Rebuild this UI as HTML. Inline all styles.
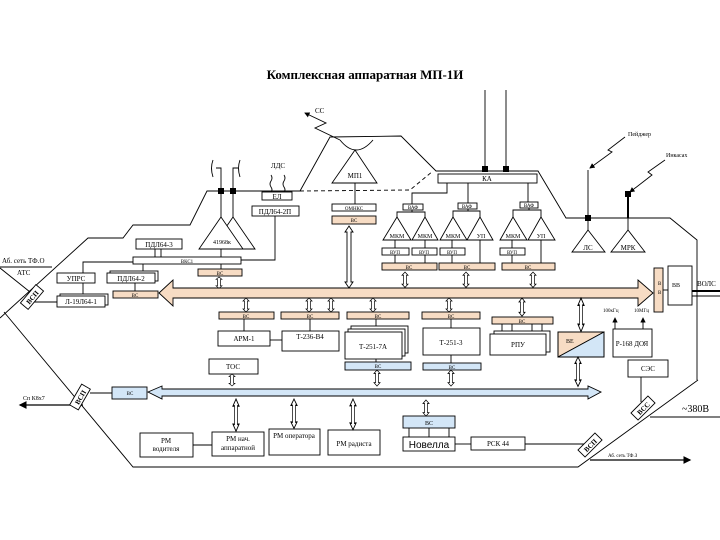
<!DOCTYPE html>
<html><head><meta charset="utf-8"><style>
body{margin:0;background:#fff}
svg{display:block;font-family:"Liberation Serif",serif;font-size:7px}
text{fill:#000}
</style></head><body>
<svg width="720" height="540" viewBox="0 0 720 540" xmlns="http://www.w3.org/2000/svg">
<defs>
<marker id="ah" markerWidth="6" markerHeight="6" refX="5" refY="3" orient="auto"><path d="M0,0L6,3L0,6z" fill="#000"/></marker>
</defs>
<g fill="none" stroke="#000" stroke-width="0.9">
<polyline points="0,318 88,238 123,238 133,225 190,225 207,191 300,191"/>
<polyline points="300,191 330,137 401,136 436,171 538,171 566,218 670,218 697,240 697,380"/>
<polyline points="300,191 410,190 433,171" stroke-dasharray="4,3"/>
<polyline points="4,312 133,467 578,467 698,380"/>
<line x1="650" y1="417" x2="720" y2="417"/>
<path d="M340,140 Q356,160 373,140"/>
<polyline points="340,140 315,128 326,123 305,113" marker-end="url(#ah)"/>
<polygon points="355,150 332,183 377,183"/>
<line x1="355" y1="183" x2="355" y2="204"/>
<rect x="332" y="204" width="44" height="7" fill="#fff"/>
<rect x="332" y="216" width="44" height="8" fill="#f7dcc4"/>
<polyline points="221,191 221,168 216,168"/><polyline points="233,191 233,168 238,168"/>
<path d="M213,160 Q210,168 213,177"/><path d="M240,160 Q237,168 240,177"/>
<line x1="221" y1="191" x2="221" y2="217"/><line x1="233" y1="191" x2="233" y2="217"/>
<polygon points="233,217 211,249 255,249" fill="#fff"/>
<polygon points="221,217 199,249 243,249" fill="#fff"/>
<path d="M271,175 q2,3 0,6 q-2,3 0,6 q2,3 0,5"/><path d="M284,175 q2,3 0,6 q-2,3 0,6 q2,3 0,5"/>
<rect x="262" y="192" width="30" height="8" fill="#fff"/>
<rect x="252" y="206" width="47" height="10" fill="#fff"/>
<polyline points="275,216 275,260 241,260"/>
<rect x="136" y="239" width="46" height="10" fill="#fff"/>
<line x1="155" y1="249" x2="155" y2="257"/><line x1="161" y1="249" x2="161" y2="257"/>
<rect x="133" y="257" width="108" height="7" fill="#fff"/>
<line x1="221" y1="249" x2="221" y2="257"/><line x1="221" y1="264" x2="221" y2="269"/>
<rect x="198" y="269" width="44" height="7" fill="#f7dcc4"/>
<polyline points="83,273 83,262 133,262"/>
<line x1="143" y1="264" x2="143" y2="273"/>
<rect x="57" y="273" width="38" height="10" fill="#fff"/>
<rect x="110" y="271" width="48" height="10" fill="#fff"/>
<rect x="107" y="273" width="48" height="10" fill="#fff"/>
<line x1="135" y1="283" x2="135" y2="291"/>
<rect x="113" y="291" width="45" height="7" fill="#f7dcc4"/>
<line x1="83" y1="283" x2="83" y2="296"/>
<rect x="60" y="294" width="48" height="11" fill="#fff"/>
<rect x="57" y="296" width="48" height="11" fill="#fff"/>
<line x1="32" y1="302" x2="57" y2="302"/>
<line x1="0" y1="267" x2="52" y2="267"/><line x1="0" y1="268" x2="30" y2="292"/>
<polygon points="159,293 173,280 173,288 638,288 638,280 653,293 638,306 638,298 173,298 173,306" fill="#f7dcc4"/>
<polygon points="349,226 353,232 351,232 351,282 353,282 349,288 345,282 347,282 347,232 345,232" fill="#fff"/>
<line x1="485" y1="90" x2="485" y2="169"/><line x1="506" y1="90" x2="506" y2="169"/>
<rect x="438" y="174" width="99" height="9" fill="#fff"/>
<polyline points="447,183 447,193 412,193 412,204"/>
<line x1="468" y1="183" x2="468" y2="203"/>
<line x1="528" y1="183" x2="528" y2="202"/>
<rect x="403" y="204" width="20" height="6" fill="#fff"/>
<rect x="458" y="203" width="19" height="6" fill="#fff"/>
<rect x="520" y="202" width="18" height="6" fill="#fff"/>
<polyline points="397,217 397,212 425,212 425,217"/><line x1="412" y1="210" x2="412" y2="212"/>
<polyline points="453,217 453,211 480,211 480,217"/><line x1="468" y1="209" x2="468" y2="211"/>
<polyline points="513,217 513,210 541,210 541,217"/><line x1="529" y1="208" x2="529" y2="210"/>
<polygon points="397,217 383,240 411,240" fill="#fff"/>
<polygon points="425,217 412,240 438,240" fill="#fff"/>
<polygon points="453,217 440,240 467,240" fill="#fff"/>
<polygon points="480,217 467,240 493,240" fill="#fff"/>
<polygon points="513,217 500,240 527,240" fill="#fff"/>
<polygon points="541,217 528,240 555,240" fill="#fff"/>
<rect x="382" y="248" width="27" height="7" fill="#fff"/>
<rect x="412" y="248" width="25" height="7" fill="#fff"/>
<rect x="440" y="248" width="25" height="7" fill="#fff"/>
<rect x="500" y="248" width="25" height="7" fill="#fff"/>
<line x1="395" y1="240" x2="395" y2="248"/><line x1="425" y1="240" x2="425" y2="248"/><line x1="452" y1="240" x2="452" y2="248"/><line x1="512" y1="240" x2="512" y2="248"/>
<line x1="395" y1="255" x2="395" y2="263"/><line x1="425" y1="255" x2="425" y2="263"/><line x1="452" y1="255" x2="452" y2="263"/><line x1="480" y1="240" x2="480" y2="263"/><line x1="512" y1="255" x2="512" y2="263"/><line x1="541" y1="240" x2="541" y2="263"/>
<rect x="382" y="263" width="55" height="7" fill="#f7dcc4"/>
<rect x="439" y="263" width="56" height="7" fill="#f7dcc4"/>
<rect x="502" y="263" width="53" height="7" fill="#f7dcc4"/>
<line x1="588" y1="218" x2="588" y2="170"/>
<polyline points="625,137 608,150 612,152 590,168" marker-end="url(#ah)"/>
<line x1="628" y1="194" x2="628" y2="218" stroke-width="2"/>
<polyline points="665,160 648,172 652,175 630,192" marker-end="url(#ah)"/>
<line x1="588" y1="218" x2="588" y2="230"/><line x1="628" y1="218" x2="628" y2="230"/>
<polygon points="588,230 572,252 605,252"/>
<polygon points="628,230 611,252 645,252"/>
<rect x="654" y="268" width="9" height="44" fill="#f7dcc4"/>
<rect x="668" y="266" width="24" height="39" fill="#fff"/>
<line x1="663" y1="290" x2="668" y2="290"/>
<line x1="692" y1="291" x2="720" y2="291" stroke-width="2"/>
<line x1="692" y1="296" x2="720" y2="296"/>
<rect x="219" y="312" width="55" height="7" fill="#f7dcc4"/>
<rect x="281" y="312" width="58" height="7" fill="#f7dcc4"/>
<rect x="347" y="312" width="62" height="7" fill="#f7dcc4"/>
<rect x="422" y="312" width="58" height="7" fill="#f7dcc4"/>
<rect x="492" y="317" width="61" height="7" fill="#f7dcc4"/>
<line x1="244" y1="319" x2="244" y2="331"/><line x1="310" y1="319" x2="310" y2="331"/><line x1="376" y1="319" x2="376" y2="332"/><line x1="451" y1="319" x2="451" y2="328"/>
<line x1="502" y1="324" x2="502" y2="334"/><line x1="512" y1="324" x2="512" y2="334"/><line x1="532" y1="324" x2="532" y2="334"/><line x1="542" y1="324" x2="542" y2="334"/>
<rect x="218" y="331" width="52" height="15" fill="#fff"/>
<line x1="270" y1="340" x2="282" y2="340"/>
<rect x="282" y="331" width="57" height="20" fill="#fff"/>
<rect x="351" y="326" width="57" height="27" fill="#fff"/>
<rect x="348" y="329" width="57" height="27" fill="#fff"/>
<rect x="345" y="332" width="57" height="27" fill="#fff"/>
<rect x="423" y="328" width="57" height="27" fill="#fff"/>
<rect x="494" y="331" width="56" height="21" fill="#fff"/>
<rect x="490" y="334" width="56" height="21" fill="#fff"/>
<polygon points="558,332 604,332 558,357" fill="#f7dcc4"/>
<polygon points="604,332 604,357 558,357" fill="#d3e6f7"/>
<rect x="558" y="332" width="46" height="25"/>
<rect x="613" y="329" width="39" height="28" fill="#fff"/>
<line x1="615" y1="329" x2="615" y2="318" marker-end="url(#ah)"/>
<line x1="643" y1="329" x2="643" y2="318" marker-end="url(#ah)"/>
<rect x="628" y="360" width="40" height="17" fill="#fff"/>
<line x1="641" y1="377" x2="641" y2="402"/>
<rect x="209" y="359" width="49" height="15" fill="#fff"/>
<line x1="376" y1="359" x2="376" y2="362"/><line x1="451" y1="355" x2="451" y2="363"/>
<rect x="345" y="362" width="66" height="8" fill="#d3e6f7"/>
<rect x="423" y="363" width="58" height="7" fill="#d3e6f7"/>
<polygon points="148,392 162,386 162,389 588,389 588,386 601,392 588,399 588,396 162,396 162,399" fill="#d3e6f7"/>
<rect x="112" y="387" width="35" height="12" fill="#d3e6f7"/>
<line x1="90" y1="393" x2="112" y2="393"/>
<line x1="83" y1="405" x2="20" y2="405" marker-end="url(#ah)" stroke-width="1.3"/>
<rect x="140" y="433" width="53" height="24" fill="#fff"/>
<line x1="193" y1="445" x2="212" y2="445"/>
<rect x="212" y="432" width="52" height="24" fill="#fff"/>
<rect x="269" y="429" width="51" height="26" fill="#fff"/>
<rect x="328" y="430" width="52" height="25" fill="#fff"/>
<rect x="403" y="416" width="52" height="12" fill="#d3e6f7"/>
<line x1="409" y1="428" x2="409" y2="437"/><line x1="429" y1="428" x2="429" y2="437"/><line x1="449" y1="428" x2="449" y2="437"/>
<rect x="403" y="437" width="52" height="14" fill="#fff"/>
<line x1="455" y1="444" x2="471" y2="444"/>
<rect x="471" y="437" width="54" height="13" fill="#fff"/>
<line x1="525" y1="444" x2="585" y2="444"/>
<line x1="590" y1="460" x2="690" y2="460" marker-end="url(#ah)" stroke-width="1.3"/>
</g>
<g fill="#fff" stroke="#000" stroke-width="0.7">
<polygon transform="translate(219,277) scale(1,0.8)" points="0,0 3,3 1.5,3 1.5,11 3,11 0,14 -3,11 -1.5,11 -1.5,3 -3,3"/>
<polygon transform="translate(405,272) scale(1,1.1)" points="0,0 3,3 1.5,3 1.5,11 3,11 0,14 -3,11 -1.5,11 -1.5,3 -3,3"/>
<polygon transform="translate(466,272) scale(1,1.1)" points="0,0 3,3 1.5,3 1.5,11 3,11 0,14 -3,11 -1.5,11 -1.5,3 -3,3"/>
<polygon transform="translate(533,272) scale(1,1.1)" points="0,0 3,3 1.5,3 1.5,11 3,11 0,14 -3,11 -1.5,11 -1.5,3 -3,3"/>
<polygon transform="translate(246,298)" points="0,0 3,3 1.5,3 1.5,11 3,11 0,14 -3,11 -1.5,11 -1.5,3 -3,3"/>
<polygon transform="translate(309,298)" points="0,0 3,3 1.5,3 1.5,11 3,11 0,14 -3,11 -1.5,11 -1.5,3 -3,3"/>
<polygon transform="translate(331,298)" points="0,0 3,3 1.5,3 1.5,11 3,11 0,14 -3,11 -1.5,11 -1.5,3 -3,3"/>
<polygon transform="translate(373,298)" points="0,0 3,3 1.5,3 1.5,11 3,11 0,14 -3,11 -1.5,11 -1.5,3 -3,3"/>
<polygon transform="translate(449,298)" points="0,0 3,3 1.5,3 1.5,11 3,11 0,14 -3,11 -1.5,11 -1.5,3 -3,3"/>
<polygon transform="translate(522,298) scale(1,1.3)" points="0,0 3,3 1.5,3 1.5,11 3,11 0,14 -3,11 -1.5,11 -1.5,3 -3,3"/>
<polygon transform="translate(581,298) scale(1,2.4)" points="0,0 3,3 1.5,3 1.5,11 3,11 0,14 -3,11 -1.5,11 -1.5,3 -3,3"/>
<polygon transform="translate(232,374) scale(1,0.85)" points="0,0 3,3 1.5,3 1.5,11 3,11 0,14 -3,11 -1.5,11 -1.5,3 -3,3"/>
<polygon transform="translate(377,370) scale(1,1.15)" points="0,0 3,3 1.5,3 1.5,11 3,11 0,14 -3,11 -1.5,11 -1.5,3 -3,3"/>
<polygon transform="translate(451,370) scale(1,1.15)" points="0,0 3,3 1.5,3 1.5,11 3,11 0,14 -3,11 -1.5,11 -1.5,3 -3,3"/>
<polygon transform="translate(578,357) scale(1,2.1)" points="0,0 3,3 1.5,3 1.5,11 3,11 0,14 -3,11 -1.5,11 -1.5,3 -3,3"/>
<polygon transform="translate(236,399) scale(1,2.3)" points="0,0 3,3 1.5,3 1.5,11 3,11 0,14 -3,11 -1.5,11 -1.5,3 -3,3"/>
<polygon transform="translate(294,399) scale(1,2.1)" points="0,0 3,3 1.5,3 1.5,11 3,11 0,14 -3,11 -1.5,11 -1.5,3 -3,3"/>
<polygon transform="translate(353,399) scale(1,2.2)" points="0,0 3,3 1.5,3 1.5,11 3,11 0,14 -3,11 -1.5,11 -1.5,3 -3,3"/>
<polygon transform="translate(426,400) scale(1,1.15)" points="0,0 3,3 1.5,3 1.5,11 3,11 0,14 -3,11 -1.5,11 -1.5,3 -3,3"/>
</g>
<g fill="#000">
<rect x="218" y="188" width="6" height="6"/><rect x="230" y="188" width="6" height="6"/>
<rect x="482" y="166" width="6" height="6"/><rect x="503" y="166" width="6" height="6"/>
<rect x="585" y="215" width="6" height="6"/><rect x="625" y="191" width="6" height="6"/>
</g>
<g stroke="#000" stroke-width="0.9" fill="#fff">
<g transform="translate(32,297) rotate(-50)"><rect x="-12" y="-5" width="24" height="10"/><text x="0" y="3" text-anchor="middle" font-weight="bold" font-size="7" stroke="none">ВСП</text></g>
<g transform="translate(80,397) rotate(-60)"><rect x="-12" y="-5" width="24" height="10"/><text x="0" y="3" text-anchor="middle" font-weight="bold" font-size="7" stroke="none">ВСП</text></g>
<g transform="translate(643,408) rotate(-45)"><rect x="-12" y="-5" width="24" height="10"/><text x="0" y="3" text-anchor="middle" font-weight="bold" font-size="7" stroke="none">ВСС</text></g>
<g transform="translate(590,445) rotate(-45)"><rect x="-12" y="-5" width="24" height="10"/><text x="0" y="3" text-anchor="middle" font-weight="bold" font-size="7" stroke="none">ВСП</text></g>
</g>
<text x="365" y="79" text-anchor="middle" font-size="13" font-weight="bold">Комплексная аппаратная МП-1И</text>
<text x="315" y="113">СС</text>
<text x="355" y="178" text-anchor="middle">МП1</text>
<text x="354" y="210" text-anchor="middle" font-size="5">ОМНКС</text>
<text x="354" y="222" text-anchor="middle" font-size="5">ВС</text>
<text x="278" y="168" text-anchor="middle">ЛДС</text>
<text x="277" y="199" text-anchor="middle">ЕЛ</text>
<text x="275" y="214" text-anchor="middle">ПДЛ64-2П</text>
<text x="222" y="244" text-anchor="middle" font-size="6">41968к</text>
<text x="159" y="247" text-anchor="middle">ПДЛ64-3</text>
<text x="187" y="263" text-anchor="middle" font-size="5">ВКС1</text>
<text x="220" y="275" text-anchor="middle" font-size="5">ВС</text>
<text x="76" y="281" text-anchor="middle">УПРС</text>
<text x="131" y="281" text-anchor="middle">ПДЛ64-2</text>
<text x="135" y="297" text-anchor="middle" font-size="5">ВС</text>
<text x="81" y="304" text-anchor="middle">Л-19Л64-1</text>
<text x="2" y="263">Аб. сеть ТФ.О</text>
<text x="17" y="275">АТС</text>
<text x="487" y="181" text-anchor="middle">КА</text>
<text x="413" y="209" text-anchor="middle" font-size="5">ВАФ</text>
<text x="467" y="208" text-anchor="middle" font-size="5">ВАФ</text>
<text x="529" y="207" text-anchor="middle" font-size="5">ВАФ</text>
<g font-size="6"><text x="397" y="238" text-anchor="middle">МКМ</text><text x="425" y="238" text-anchor="middle">МКМ</text><text x="453" y="238" text-anchor="middle">МКМ</text><text x="481" y="238" text-anchor="middle">УП</text><text x="513" y="238" text-anchor="middle">МКМ</text><text x="541" y="238" text-anchor="middle">УП</text></g>
<g font-size="5"><text x="395" y="254" text-anchor="middle">ВУП</text><text x="424" y="254" text-anchor="middle">ВУП</text><text x="452" y="254" text-anchor="middle">ВУП</text><text x="512" y="254" text-anchor="middle">ВУП</text>
<text x="409" y="269" text-anchor="middle">ВС</text><text x="467" y="269" text-anchor="middle">ВС</text><text x="528" y="269" text-anchor="middle">ВС</text></g>
<text x="588" y="250" text-anchor="middle">ЛС</text>
<text x="628" y="250" text-anchor="middle">МРК</text>
<text x="628" y="136" font-size="6">Пейджер</text>
<text x="666" y="157" font-size="6">Инкасах</text>
<text x="658" y="285" font-size="5">В</text><text x="658" y="294" font-size="5">В</text>
<text x="672" y="287" font-size="6">ВВ</text>
<text x="697" y="286">ВОЛС</text>
<g font-size="5"><text x="603" y="312">100кГц</text><text x="634" y="312">10МГц</text>
<text x="246" y="318" text-anchor="middle">ВС</text><text x="310" y="318" text-anchor="middle">ВС</text><text x="378" y="318" text-anchor="middle">ВС</text><text x="451" y="318" text-anchor="middle">ВС</text><text x="522" y="323" text-anchor="middle">ВС</text>
<text x="378" y="368" text-anchor="middle">ВС</text><text x="452" y="369" text-anchor="middle">ВС</text><text x="130" y="395" text-anchor="middle">ВС</text></g>
<text x="244" y="341" text-anchor="middle">АРМ-1</text>
<text x="310" y="339" text-anchor="middle">Т-236-В4</text>
<text x="373" y="349" text-anchor="middle">Т-251-7А</text>
<text x="451" y="345" text-anchor="middle">Т-251-3</text>
<text x="518" y="347" text-anchor="middle">РПУ</text>
<text x="566" y="343" font-size="6">ВЕ</text>
<text x="632" y="346" text-anchor="middle">Р-168 ДОЯ</text>
<text x="648" y="371" text-anchor="middle">СЭС</text>
<text x="233" y="369" text-anchor="middle">ТОС</text>
<text x="23" y="400" font-size="6">Сп К8х7</text>
<text x="682" y="412" font-size="10">~380В</text>
<text x="608" y="457" font-size="5">Аб. сеть ТФ.З</text>
<text x="166" y="443" text-anchor="middle">РМ</text><text x="166" y="451" text-anchor="middle">водителя</text>
<text x="238" y="441" text-anchor="middle">РМ нач.</text><text x="238" y="450" text-anchor="middle">аппаратной</text>
<text x="294" y="438" text-anchor="middle">РМ оператора</text>
<text x="354" y="446" text-anchor="middle">РМ радиста</text>
<text x="429" y="425" text-anchor="middle" font-size="6">ВС</text>
<text x="429" y="448" text-anchor="middle" font-size="10" font-family="Liberation Sans, sans-serif">Новелла</text>
<text x="498" y="446" text-anchor="middle">РСК 44</text>
</svg>
</body></html>
